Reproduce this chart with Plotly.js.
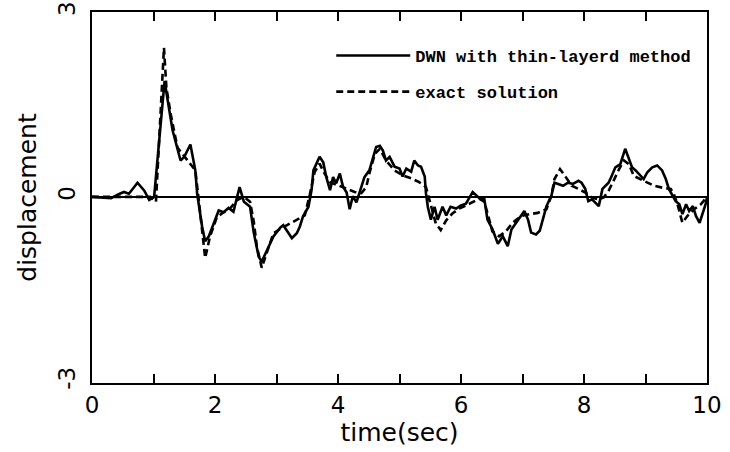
<!DOCTYPE html>
<html>
<head>
<meta charset="utf-8">
<script src="https://cdn.plot.ly/plotly-3.0.1.min.js"></script>
<style>html,body{margin:0;padding:0;background:#fff;}#chart{width:730px;height:452px;}</style>
</head>
<body>
<div id="chart"></div>
<script>
// DWN with thin-layered method (solid)
var tDWN = [0,0.31,0.45,0.52,0.6,0.74,0.85,0.93,1.01,1.17,1.18,1.31,1.44,1.5,1.6,1.68,1.71,1.79,1.84,1.9,1.98,2.06,2.14,2.22,2.3,2.4,2.47,2.57,2.63,2.71,2.76,2.84,2.95,3.06,3.11,3.17,3.25,3.33,3.38,3.43,3.52,3.57,3.6,3.65,3.7,3.76,3.81,3.87,3.92,3.97,4.03,4.08,4.14,4.19,4.24,4.3,4.35,4.43,4.51,4.57,4.62,4.68,4.73,4.78,4.84,4.92,5.0,5.05,5.11,5.19,5.24,5.3,5.35,5.41,5.43,5.46,5.51,5.57,5.62,5.7,5.76,5.83,5.92,6.0,6.08,6.19,6.27,6.32,6.38,6.43,6.51,6.6,6.68,6.76,6.82,6.9,6.98,7.03,7.09,7.14,7.22,7.28,7.33,7.39,7.47,7.52,7.58,7.66,7.74,7.82,7.91,7.96,8.02,8.07,8.13,8.18,8.24,8.3,8.35,8.4,8.45,8.51,8.59,8.67,8.73,8.78,8.84,8.92,8.97,9.03,9.11,9.19,9.27,9.33,9.38,9.44,9.49,9.55,9.6,9.66,9.71,9.77,9.82,9.88,9.93,9.98,10];
var dDWN = [0,-0.02,0.05,0.08,0.05,0.23,0.1,-0.05,0,1.83,1.88,1.08,0.59,0.65,0.85,0.43,0.05,-0.48,-0.72,-0.64,-0.43,-0.22,-0.25,-0.18,-0.24,0.16,-0.08,-0.16,-0.58,-0.97,-1.05,-0.88,-0.64,-0.5,-0.46,-0.55,-0.67,-0.59,-0.48,-0.32,-0.16,0.11,0.43,0.54,0.65,0.56,0.32,0.11,0.32,0.22,0.38,0.17,0.07,-0.2,0.01,-0.09,0.07,0.32,0.43,0.65,0.81,0.83,0.75,0.59,0.65,0.49,0.46,0.33,0.46,0.41,0.59,0.51,0.49,0.33,0.06,-0.16,-0.37,-0.16,-0.37,-0.16,-0.3,-0.16,-0.19,-0.14,-0.11,0.08,0.0,-0.04,-0.04,-0.37,-0.52,-0.76,-0.64,-0.8,-0.53,-0.42,-0.31,-0.23,-0.37,-0.58,-0.61,-0.55,-0.37,-0.15,0.02,0.23,0.21,0.18,0.23,0.21,0.26,0.23,0.13,-0.07,-0.04,-0.09,-0.15,0.13,0.18,0.23,0.34,0.48,0.53,0.78,0.62,0.48,0.43,0.34,0.29,0.4,0.48,0.51,0.43,0.29,0.13,0.02,-0.07,-0.12,-0.28,-0.12,-0.23,-0.15,-0.31,-0.42,-0.28,-0.11,0];

// exact solution (dashed)
var tExact = [0,0.95,1.04,1.17,1.21,1.28,1.39,1.55,1.68,1.73,1.84,1.92,2.03,2.14,2.25,2.36,2.47,2.57,2.63,2.68,2.76,2.84,2.95,3.06,3.22,3.38,3.46,3.54,3.62,3.7,3.78,3.87,4.0,4.14,4.27,4.38,4.46,4.51,4.6,4.68,4.78,4.92,5.05,5.19,5.32,5.43,5.51,5.59,5.67,5.76,5.86,5.97,6.08,6.19,6.3,6.38,6.4,6.46,6.51,6.62,6.73,6.84,6.98,7.11,7.25,7.39,7.47,7.52,7.61,7.69,7.8,7.91,8.02,8.13,8.24,8.32,8.4,8.48,8.57,8.65,8.73,8.81,8.92,9.03,9.14,9.27,9.41,9.46,9.52,9.6,9.68,9.79,9.9,10];
var dExact = [0,0,-0.08,2.42,1.77,1.34,0.8,0.59,0.43,0,-0.99,-0.64,-0.33,-0.25,-0.18,-0.05,0.0,-0.08,-0.4,-0.8,-1.15,-0.91,-0.59,-0.52,-0.43,-0.35,-0.3,0.03,0.4,0.54,0.38,0.24,0.19,0.13,0.08,0.06,0.16,0.38,0.7,0.78,0.59,0.43,0.35,0.3,0.24,0.16,-0.16,-0.43,-0.54,-0.38,-0.27,-0.19,-0.14,-0.08,-0.03,-0.08,-0.15,-0.37,-0.56,-0.64,-0.56,-0.42,-0.31,-0.28,-0.26,-0.2,0.02,0.29,0.45,0.34,0.18,0.13,0.07,-0.01,-0.04,-0.01,0.1,0.26,0.45,0.59,0.53,0.34,0.29,0.23,0.18,0.15,0.13,0.05,-0.12,-0.42,-0.31,-0.2,-0.12,0];

var xTickVals = [0,1,2,3,4,5,6,7,8,9,10];
var xTickText = ['0','','2','','4','','6','','8','','10'];
var yTickVals = [-3,0,3];
var yTickText = ['-3','0','3'];
var names = ['DWN with thin-layerd method','exact solution'];

var traces = [
  {x:tDWN, y:dDWN, type:'scatter', mode:'lines', name:names[0], legendgroup:'a',
   line:{color:'#000', width:2.6, dash:'solid'}},
  {x:tExact, y:dExact, type:'scatter', mode:'lines', name:names[1], legendgroup:'b',
   line:{color:'#000', width:2.6, dash:'7px,4px'}}
];

var axFont = {family:'DejaVu Sans', size:23, color:'#000'};
var layout = {
  width:730, height:452,
  margin:{l:92, r:23, t:12, b:69},
  paper_bgcolor:'#fff', plot_bgcolor:'#fff',
  showlegend:true,
  legend:{x:0.389, y:0.93, xanchor:'left', yanchor:'top', bgcolor:'rgba(0,0,0,0)',
          font:{family:'Liberation Mono', size:17, color:'#000', weight:'bold'},
          itemwidth:74, tracegroupgap:11, traceorder:'grouped'},
  xaxis:{range:[0,10], tickvals:xTickVals, ticktext:xTickText,
         ticks:'inside', ticklen:9, tickwidth:2, tickcolor:'#000',
         showline:true, linewidth:2, linecolor:'#000', mirror:'ticks',
         showgrid:false, zeroline:false, tickfont:axFont,
         title:{text:'time(sec)', font:{family:'DejaVu Sans', size:25, color:'#000'}, standoff:6}},
  yaxis:{range:[-3.02,3], tickvals:yTickVals, ticktext:yTickText, tickangle:-90,
         ticks:'', showline:true, linewidth:2, linecolor:'#000', mirror:true,
         showgrid:false, zeroline:true, zerolinewidth:2.5, zerolinecolor:'#000',
         tickfont:axFont, ticklabelstandoff:6,
         title:{text:'displacement', font:{family:'DejaVu Sans', size:25, color:'#000'}, standoff:10}}
};

Plotly.newPlot('chart', traces, layout, {staticPlot:true, displayModeBar:false});
</script>
</body>
</html>
